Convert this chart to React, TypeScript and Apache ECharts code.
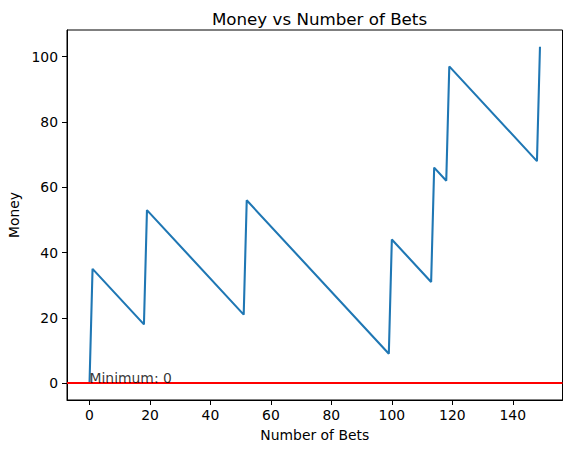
import React, { useEffect, useRef } from "react";
import * as echarts from "echarts";

const betIndex = [0, 1, 18, 19, 51, 52, 99, 100, 113, 114, 118, 119, 148, 149];
const money = [0, 35, 18, 53, 21, 56, 9, 44, 31, 66, 62, 97, 68, 103];
const xTicks = [0, 20, 40, 60, 80, 100, 120, 140];
const yTicks = [0, 20, 40, 60, 80, 100];
const minimumValue = 0;
const titleText = "Money vs Number of Bets";
const xName = "Number of Bets";
const yName = "Money";

const FONT = "DejaVu Sans";

export default function App() {
  const ref = useRef<HTMLDivElement>(null);
  useEffect(() => {
    if (!ref.current) return;
    const chart = echarts.init(ref.current, null, { renderer: "svg" });
    const xMin = Math.min(...betIndex), xMax = Math.max(...betIndex);
    const yMin = Math.min(...money), yMax = Math.max(...money);
    const xPad = (xMax - xMin) * 0.05, yPad = (yMax - yMin) * 0.05;
    const axisCommon = {
      axisLine: { show: true, onZero: false, lineStyle: { color: "#000", width: 1 } },
      splitLine: { show: false },
    };
    chart.setOption({
      animation: false,
      backgroundColor: "#fff",
      textStyle: { fontFamily: FONT },
      title: {
        text: titleText,
        left: 314.5,
        top: 5,
        textAlign: "center",
        textStyle: { fontFamily: FONT, fontSize: 16.7, fontWeight: "normal", color: "#000" },
      },
      grid: {
        left: 67,
        right: 8.5,
        top: 30,
        bottom: 53,
        show: true,
        borderColor: "#000",
        borderWidth: 1,
        containLabel: false,
        outerBoundsMode: "none",
      },
      xAxis: {
        type: "value",
        min: xMin - xPad,
        max: xMax + xPad,
        name: xName,
        nameLocation: "middle",
        nameGap: 28,
        nameTextStyle: { fontFamily: FONT, fontSize: 13.9, color: "#000" },
        ...axisCommon,
        axisTick: { show: true, inside: false, length: 5, customValues: xTicks, lineStyle: { color: "#000" } },
        axisLabel: { customValues: xTicks, fontFamily: FONT, fontSize: 13.9, color: "#000", margin: 8 },
      },
      yAxis: {
        type: "value",
        min: yMin - yPad,
        max: yMax + yPad,
        name: yName,
        nameLocation: "middle",
        nameGap: 45,
        nameTextStyle: { fontFamily: FONT, fontSize: 13.9, color: "#000" },
        ...axisCommon,
        axisTick: { show: true, inside: false, length: 5, customValues: yTicks, lineStyle: { color: "#000" } },
        axisLabel: { customValues: yTicks, fontFamily: FONT, fontSize: 13.9, color: "#000", margin: 9 },
      },
      series: [
        {
          type: "line",
          data: betIndex.map((x, i) => [x, money[i]]),
          showSymbol: false,
          symbol: "none",
          lineStyle: { color: "#1f77b4", width: 2.08 },
          itemStyle: { color: "#1f77b4" },
          z: 2,
        },
        {
          type: "scatter",
          data: [[0, minimumValue]],
          symbolSize: 0,
          z: 5,
          label: {
            show: true,
            formatter: "Minimum: " + minimumValue,
            position: [0, 0],
            align: "left",
            verticalAlign: "bottom",
            offset: [0, 2],
            fontFamily: FONT,
            fontSize: 13.9,
            color: "#000",
          },
          markLine: {
            silent: true,
            symbol: "none",
            label: { show: false },
            lineStyle: { color: "#ff0000", width: 2.08, type: "solid" },
            data: [{ yAxis: minimumValue }],
            z: 4,
          },
        },
      ],
    });
    return () => chart.dispose();
  }, []);
  return (
    <div
      ref={ref}
      style={{ position: "absolute", left: 0, top: 0, width: 571, height: 453, background: "#fff" }}
    />
  );
}
